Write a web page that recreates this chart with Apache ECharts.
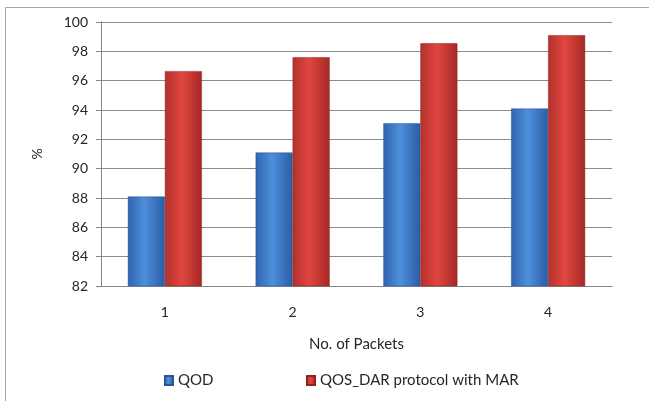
<!DOCTYPE html>
<html><head><meta charset="utf-8">
<script src="https://cdn.jsdelivr.net/npm/echarts@6/dist/echarts.min.js"></script>
<style>html,body{margin:0;padding:0;background:#fff}#c{width:649px;height:401px}</style>
</head><body><div id="c"></div>
<script>
var categories = ['1', '2', '3', '4'];
var qodValues = [88.1, 91.1, 93.1, 94.1];
var marValues = [96.65, 97.6, 98.55, 99.1];
var seriesNames = ['QOD', 'QOS_DAR protocol with MAR'];
var yTicks = {min: 82, max: 100, interval: 2};

var font = 'Lato, "Open Sans", sans-serif';
function grad(a, b, c) {
  return new echarts.graphic.LinearGradient(0, 0, 1, 0, [
    {offset: 0, color: a}, {offset: 0.45, color: b}, {offset: 1, color: c}
  ]);
}
var chart = echarts.init(document.getElementById('c'), null, {renderer: 'canvas'});
chart.setOption({
  animation: false,
  backgroundColor: '#fff',
  graphic: [{
    type: 'rect', shape: {x: 5.5, y: 7.5, width: 700, height: 500},
    style: {fill: 'none', stroke: '#a6a6a6', lineWidth: 1}, silent: true
  }],
  grid: {left: 101, right: 37, top: 22, bottom: 115},
  legend: [{
    data: [seriesNames[0]], left: 159, top: 368, icon: 'rect',
    itemWidth: 8, itemHeight: 9, itemGap: 4,
    textStyle: {fontFamily: font, fontSize: 15, color: '#262626', padding: [0, 0, 0, 0]}
  }, {
    data: [seriesNames[1]], left: 301, top: 368, icon: 'rect',
    itemWidth: 8, itemHeight: 9, itemGap: 4,
    textStyle: {fontFamily: font, fontSize: 15, color: '#262626', padding: [0, 0, 0, 0]}
  }],
  xAxis: {
    type: 'category', data: categories,
    name: 'No. of Packets', nameLocation: 'middle', nameGap: 51,
    nameTextStyle: {fontFamily: font, fontSize: 15, color: '#262626'},
    axisLine: {lineStyle: {color: '#868686'}},
    axisTick: {show: false},
    axisLabel: {fontFamily: font, fontSize: 14, color: '#262626', margin: 19}
  },
  yAxis: {
    type: 'value', min: yTicks.min, max: yTicks.max, interval: yTicks.interval,
    name: '%', nameLocation: 'middle', nameGap: 57, nameRotate: 90,
    nameTextStyle: {fontFamily: font, fontSize: 14, color: '#262626'},
    axisLine: {show: true, lineStyle: {color: '#868686'}},
    axisTick: {show: true, length: 5, inside: false, lineStyle: {color: '#868686'}},
    axisLabel: {fontFamily: font, fontSize: 14, color: '#262626', margin: 13},
    splitLine: {lineStyle: {color: '#8c8c8c', width: 1}}
  },
  series: [{
    name: seriesNames[0], type: 'bar', data: qodValues,
    barWidth: 37, barGap: '0%',
    itemStyle: {color: grad('#2e64b0', '#4f8fdc', '#2a5da3'), borderColor: '#2a5595', borderWidth: 0.5}
  }, {
    name: seriesNames[1], type: 'bar', data: marValues,
    barWidth: 37, barGap: '0%',
    itemStyle: {color: grad('#b3302c', '#e0473f', '#a52826'), borderColor: '#8e2222', borderWidth: 0.5}
  }]
});
</script></body></html>
